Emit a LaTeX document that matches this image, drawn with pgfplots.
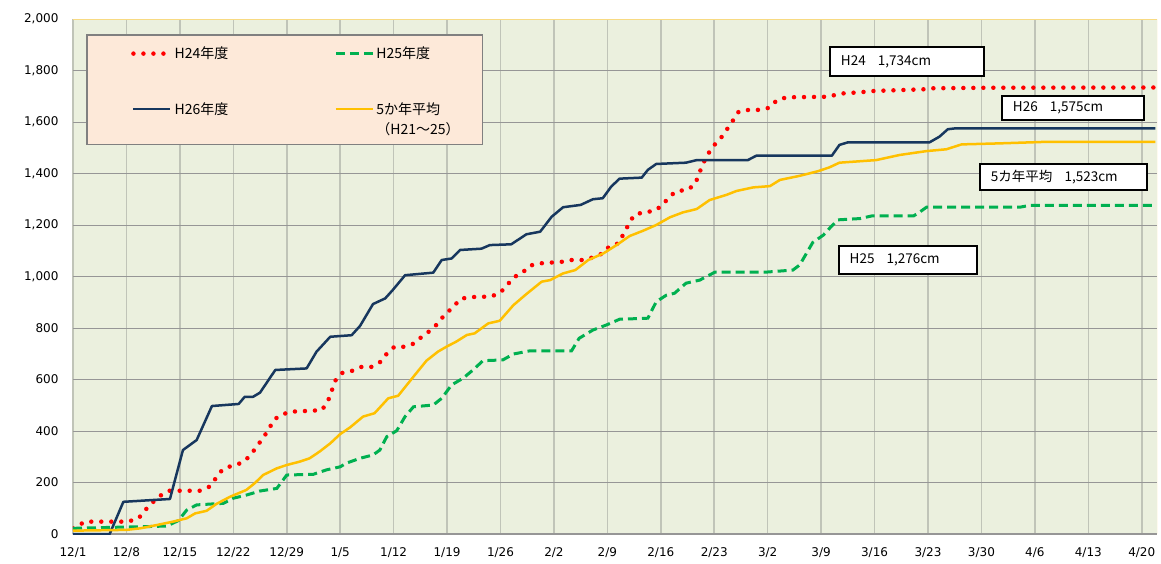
\documentclass[border=0pt]{standalone}
\usepackage{fontspec}
\setmainfont{DejaVu Sans}
\newfontfamily\jp{Noto Sans CJK JP}
\usepackage{pgfplots}
\pgfplotsset{compat=1.18}
\definecolor{bgc}{RGB}{235,240,222}
\definecolor{vgrid}{RGB}{192,196,184}
\definecolor{hgrid}{RGB}{150,150,150}
\definecolor{navy}{RGB}{23,55,94}
\definecolor{gold}{RGB}{255,192,0}
\definecolor{grn}{RGB}{0,176,80}
\definecolor{legfill}{RGB}{253,233,217}
\definecolor{frame}{RGB}{248,218,130}
\begin{document}
\begin{tikzpicture}
\begin{axis}[
  scale only axis, width=1084pt, height=515pt,
  xmin=0, xmax=142, ymin=0, ymax=2000,
  xtick={0,7,...,140},
  xticklabels={12/1,12/8,12/15,12/22,12/29,1/5,1/12,1/19,1/26,2/2,2/9,2/16,2/23,3/2,3/9,3/16,3/23,3/30,4/6,4/13,4/20},
  ytick={0,200,...,2000},
  /pgf/number format/assume math mode=true,
  /pgf/number format/.cd, 1000 sep={,}, /pgfplots/.cd,
  ticklabel style={font=\fontsize{12}{14}\selectfont},
  xticklabel style={yshift=-10pt},
  yticklabel style={xshift=-11pt},
  major tick length=0pt,
  grid=major,
  x grid style={color=vgrid, line width=1.6pt},
  y grid style={color=hgrid, line width=0.9pt},
  axis line style={draw=none},
  axis background/.style={fill=bgc},
  legend columns=2,
  legend cell align=left,
  legend image code/.code={\draw[#1] (0pt,0pt) -- (37pt,0pt);},
  legend style={at={(0.0535,0.950)}, anchor=north west, draw=none, fill=none,
    inner sep=0pt, row sep=38pt,
    font=\jp\fontsize{14}{16}\selectfont,
    /tikz/every even column/.append style={column sep=104pt}},
]
\coordinate (sw) at (rel axis cs:0,0);
\coordinate (ne) at (rel axis cs:1,1);
\draw[hgrid, line width=1.6pt] (rel axis cs:0,0) -- (rel axis cs:1,0);
\draw[frame, line width=0.8pt] (rel axis cs:0,1) -- (rel axis cs:1,1) -- (rel axis cs:1,0);
\draw[draw=gray, line width=1.1pt, fill=legfill] (axis cs:1.83,1511) rectangle (axis cs:53.7,1938);

% H24
\addplot[red, line width=4.5pt, line cap=round, dash pattern=on 0pt off 10pt] coordinates {
(0,22) (1.6,48) (7.2,48) (8.6,61) (9.4,91) (10.3,119) (11.4,148) (12.5,168) (16.6,168) (17.9,184) (18.7,216) (19.6,251) (20.8,265) (22.2,277) (23.2,304) (24.0,337) (24.8,369) (25.6,404) (26.3,443) (27.2,462) (28.5,475) (30.0,477) (32.6,481) (33.4,516) (33.9,557) (34.4,597) (35.3,626) (36.6,634) (37.8,649) (39.1,649) (40.3,669) (41.2,704) (42.1,727) (43.4,727) (44.7,740) (45.8,769) (46.9,792) (47.9,821) (48.7,853) (49.8,880) (50.7,913) (52.0,920) (54.7,922) (55.9,935) (56.9,967) (57.7,997) (58.8,1012) (59.8,1042) (61.2,1051) (64.0,1057) (65.3,1064) (66.7,1064) (68.1,1074) (69.4,1090) (70.3,1118) (71.5,1129) (72.1,1165) (72.8,1203) (73.5,1239) (74.8,1250) (76.1,1254) (77.2,1276) (78.1,1310) (79.1,1332) (80.5,1336) (81.5,1359) (82.0,1398) (82.5,1436) (83.1,1472) (83.9,1507) (84.9,1539) (85.7,1573) (86.5,1608) (87.2,1640) (88.5,1647) (90.0,1647) (91.3,1656) (92.2,1685) (93.5,1696) (99.0,1698) (100.4,1710) (101.8,1713) (103.1,1715) (104.5,1720) (111.4,1727) (112.7,1731) (120,1733) (141.8,1734)
};
\addlegendentry{H24年度}
% H25
\addplot[grn, line width=3pt, dash pattern=on 9pt off 5pt] coordinates {
(0,22) (5.3,26) (8.8,28) (12.3,31) (13.8,52) (14.9,93) (16.2,113) (18.4,117) (19.7,119) (21.0,139) (22.7,151) (24.5,167) (26.7,177) (28.0,229) (31.5,232) (33.2,249) (35.0,261) (35.8,275) (37.6,294) (39.3,307) (40.2,326) (41.1,378) (42.4,401) (43.5,456) (44.6,494) (47.2,501) (48.3,527) (49.6,579) (51.1,605) (52.4,637) (53.7,673) (56.3,676) (57.7,699) (59.8,711) (65.3,711) (66.3,760) (68.1,792) (69.9,812) (71.6,834) (75.3,838) (76.4,902) (77.7,927) (78.8,935) (80.3,974) (82.1,986) (84.1,1017) (90.8,1017) (94.3,1025) (95.2,1045) (96.9,1132) (98.3,1161) (99.1,1187) (100.2,1220) (103.1,1225) (104.6,1235) (110.1,1235) (111.0,1252) (111.8,1269) (124.0,1269) (125.3,1276) (141.8,1276)
};
\addlegendentry{H25年度}
% H26
\addplot[navy, line width=2.5pt, line join=round] coordinates {
(0,0) (4.8,0) (6.6,125) (12.7,136) (14.4,326) (16.2,365) (18.2,497) (21.7,505) (22.5,533) (23.6,533) (24.5,549) (26.5,637) (30.6,643) (31.9,708) (33.7,766) (36.5,772) (37.6,808) (39.3,893) (40.9,915) (41.9,948) (43.5,1005) (47.2,1015) (48.3,1064) (49.6,1070) (50.7,1103) (53.5,1108) (54.6,1122) (57.4,1125) (59.4,1164) (61.2,1174) (62.7,1232) (64.2,1269) (66.5,1278) (68.1,1300) (69.4,1304) (70.5,1349) (71.6,1380) (74.5,1384) (75.3,1414) (76.4,1437) (80.3,1442) (81.7,1452) (88.4,1452) (89.5,1469) (99.4,1469) (100.4,1511) (101.5,1521) (112.2,1521) (113.5,1543) (114.6,1572) (115.5,1575) (141.8,1575)
};
\addlegendentry{H26年度}
% 5-year average
\addplot[gold, line width=2.5pt, line join=round] coordinates {
(0,13) (7.0,16) (8.8,22) (11.0,35) (13.1,48) (14.9,61) (16.0,80) (17.5,90) (18.8,117) (20.6,145) (22.7,171) (23.8,197) (24.9,229) (26.7,255) (28.0,268) (29.7,281) (31.0,294) (32.3,320) (33.7,352) (35.0,388) (36.3,414) (38.0,456) (39.5,469) (41.3,527) (42.6,537) (44.6,611) (46.3,673) (47.8,708) (48.9,727) (50.2,747) (51.6,773) (52.6,779) (54.4,818) (55.9,828) (57.7,889) (59.4,932) (61.4,980) (62.5,986) (64.2,1012) (65.8,1025) (67.5,1064) (69.5,1090) (71.2,1122) (72.9,1157) (74.7,1178) (76.4,1200) (78.2,1230) (79.9,1249) (81.7,1262) (83.4,1297) (85.6,1317) (86.9,1332) (89.1,1346) (91.3,1351) (92.6,1375) (95.2,1391) (97.6,1409) (99.1,1424) (100.4,1442) (105.2,1452) (108.3,1472) (111.8,1487) (114.4,1494) (116.4,1513) (121.4,1517) (127.5,1523) (141.8,1523)
};
\addlegendentry{\begin{tabular}[t]{@{}l@{}}5か年平均\\[4pt]（H21〜25）\end{tabular}}

\tikzset{lbl/.style={draw=black, line width=2pt, fill=white, anchor=north west, outer sep=0pt,
  inner xsep=11pt, inner ysep=0pt, align=left, font=\jp\fontsize{13.5}{15}\selectfont}}
\node[lbl, text width=132pt, minimum height=29pt] at (axis cs:99.16,1891) {H24\hspace{0.9em}1,734cm};
\node[lbl, text width=120pt, minimum height=24pt] at (axis cs:121.69,1701) {H26\hspace{0.9em}1,575cm};
\node[lbl, text width=145pt, minimum height=26pt] at (axis cs:118.8,1437) {5カ年平均\hspace{0.9em}1,523cm};
\node[lbl, text width=116pt, minimum height=28pt] at (axis cs:100.3,1118) {H25\hspace{0.9em}1,276cm};
\end{axis}
\pgfresetboundingbox
\path ([shift={(-73pt,-29pt)}]sw) rectangle ([shift={(4pt,19pt)}]ne);
\end{tikzpicture}
\end{document}
